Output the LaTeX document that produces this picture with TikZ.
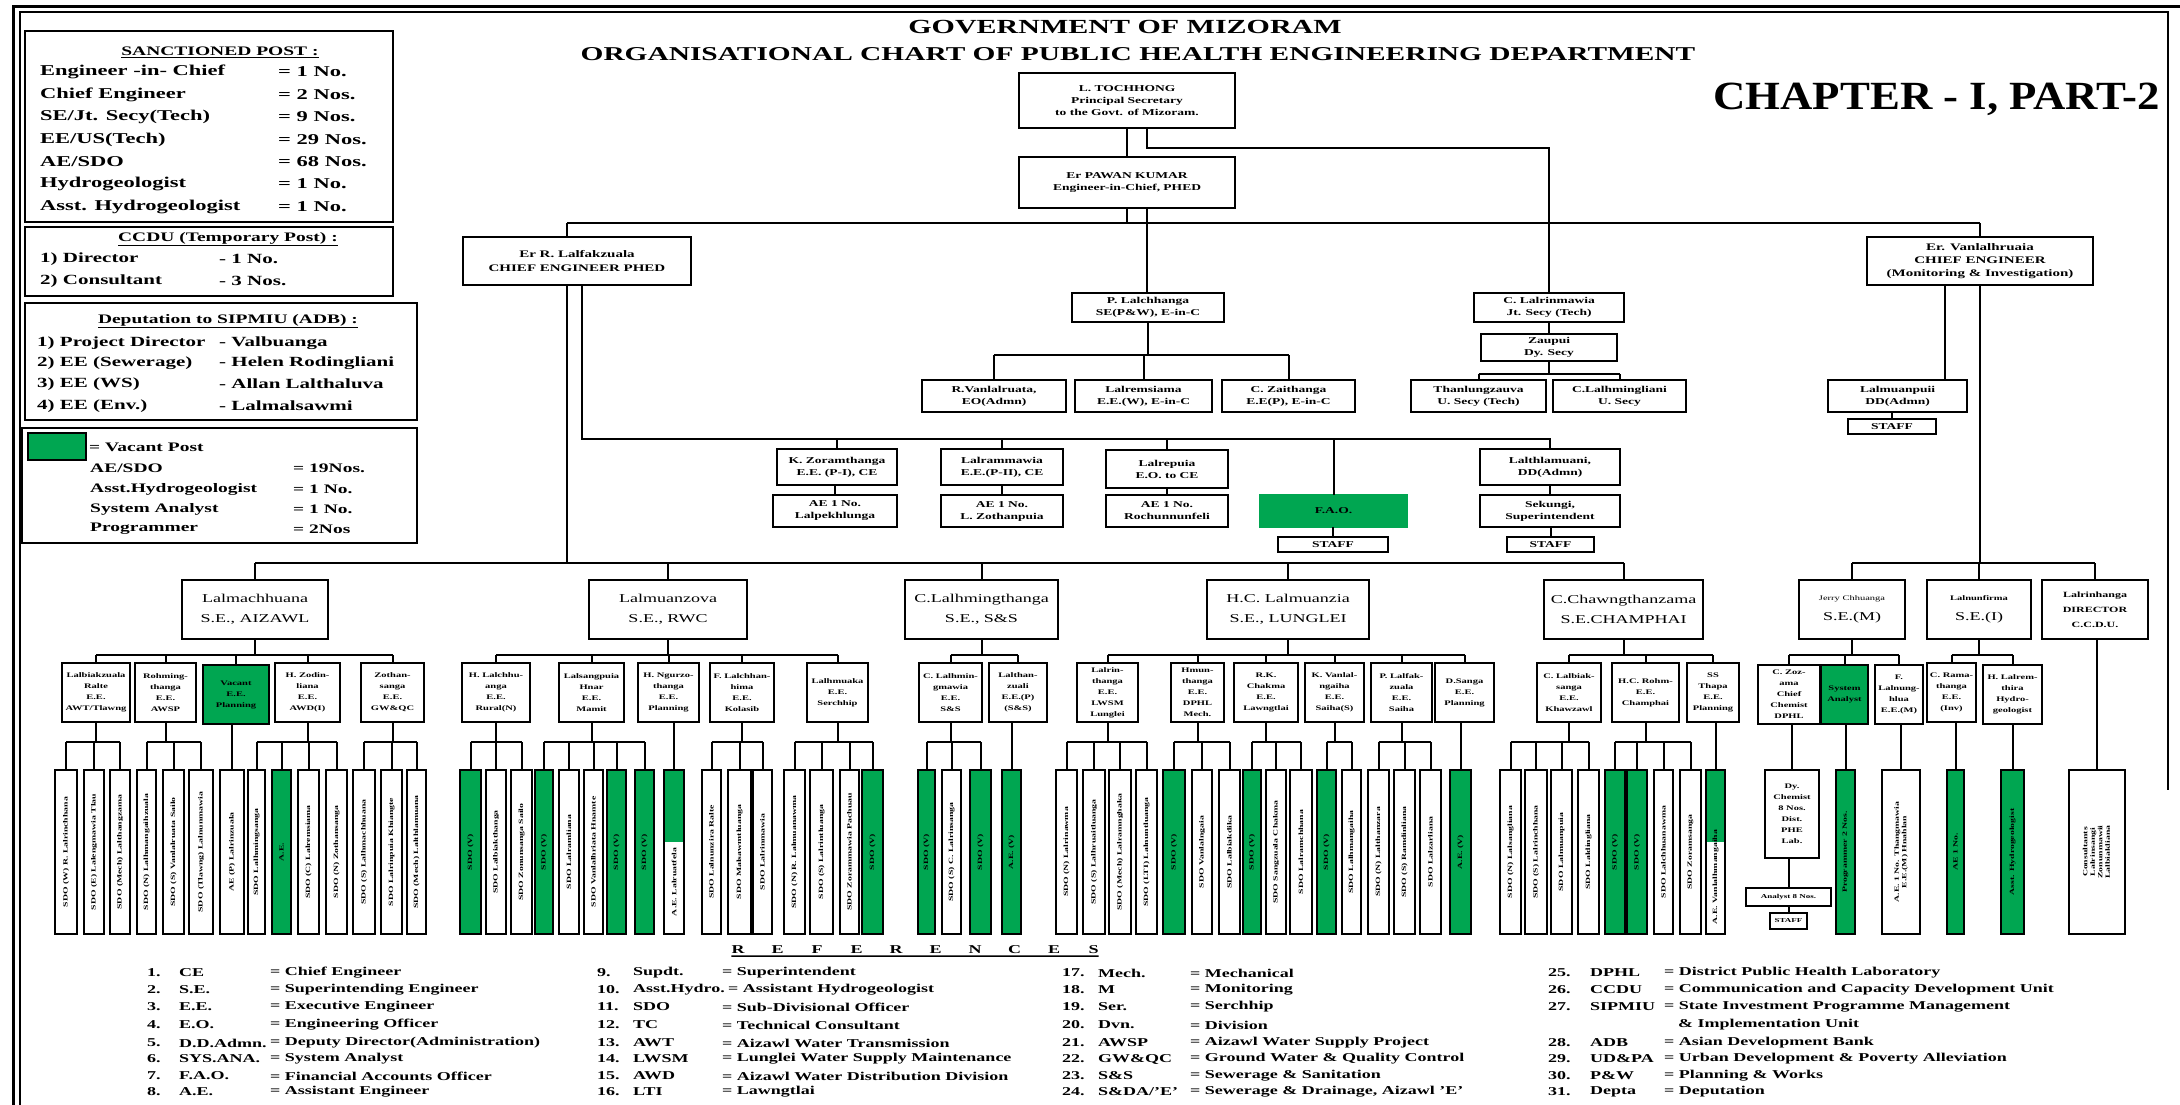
\documentclass[tikz,border=0pt]{standalone}
\usepackage{fontspec}
\setmainfont{Liberation Serif}[FakeStretch=1.5]
\newfontfamily\chapfont{Liberation Serif}[FakeStretch=1.12]
\usepackage{graphicx}
\definecolor{vgreen}{RGB}{0,166,81}
\tikzset{
  box/.style={draw, line width=2pt, inner sep=1pt, outer sep=0pt, align=center, font=\bfseries\fontsize{9}{12}\selectfont},
  sebox/.style={font=\fontsize{12}{20}\selectfont},
  eebox/.style={font=\bfseries\fontsize{7}{11}\selectfont},
  leafbox/.style={draw, line width=2pt, inner sep=0pt, outer sep=0pt, font=\bfseries\fontsize{6.5}{7.5}\selectfont},
  special/.style={path picture={\fill[vgreen] (path picture bounding box.north west) rectangle ([yshift=-72pt]path picture bounding box.north east);}},
  conn/.style={line width=2pt},
  lgt/.style={inner sep=0pt, anchor=west, font=\bfseries\fontsize{15}{17}\selectfont},
  lgs/.style={inner sep=0pt, anchor=west, font=\bfseries\fontsize{14}{16}\selectfont},
  lgv/.style={inner sep=0pt, anchor=west, font=\bfseries\fontsize{13}{15}\selectfont},
  lgh/.style={inner sep=0pt, font=\bfseries\fontsize{13}{15}\selectfont},
  reft/.style={inner sep=0pt, anchor=west, font=\bfseries\fontsize{12}{14}\selectfont},
  gv/.style={fill=vgreen}
}
\newcommand\bx[7][]{\node[box,#1,minimum width={((#5)-(#3))*1pt},minimum height={((#6)-(#4))*1pt},anchor=north west] (#2) at (#3,#4) {#7};}
\newcommand\leaf[5][]{\node[leafbox,#1,minimum width={((#4)-(#3))*1pt},minimum height=164pt,anchor=north west] (#2) at (#3,770) {\rotatebox{90}{#5}};}
\newcommand\lrow[7]{\node[#1] (#2a) at (#3,#4) {#5}; \node[#1] (#2b) at (#6,#4) {#7};}
\newcommand\rrow[8]{\node[reft] (#1n) at (#2,#5) {#6}; \node[reft] (#1a) at (#3,#5) {#7}; \node[reft] (#1d) at (#4,#5) {#8};}
\begin{document}
\begin{tikzpicture}[x=1pt,y=-1pt]
\clip (0,0) rectangle (2180,1104);
\fill[white] (0,0) rectangle (2180,1104);
% frame
\draw[line width=3pt] (13,1110) -- (13,6) -- (2190,6);
\draw[line width=2pt] (20,1110) -- (20,12) -- (2168,12) -- (2168,790);
% titles
\node[font=\bfseries\fontsize{20}{24}\selectfont] (tt1) at (1125,27) {GOVERNMENT OF MIZORAM};
\node[font=\bfseries\fontsize{19.6}{24}\selectfont] (tt2) at (1138,54) {ORGANISATIONAL CHART OF PUBLIC HEALTH ENGINEERING DEPARTMENT};
\node[font=\chapfont\bfseries\fontsize{40}{44}\selectfont, anchor=east, inner sep=0pt] (chap) at (2160,99) {CHAPTER - I, PART-2};
% legend boxes
\bx[line width=2.5pt]{lg1}{25}{31}{393}{222}{}
\bx[line width=2.5pt]{lg2}{25}{227}{393}{296}{}
\bx[line width=2.5pt]{lg3}{25}{303}{417}{420}{}
\bx[line width=2.5pt]{lg4}{22}{428}{417}{543}{}
\node[lgh] (h1) at (220,52) {\underline{SANCTIONED POST :}};
\lrow{lgt}{r1}{40}{72}{Engineer -in- Chief}{278}{= 1 No.}
\lrow{lgt}{r2}{40}{95}{Chief Engineer}{278}{= 2 Nos.}
\lrow{lgt}{r3}{40}{117}{SE/Jt. Secy(Tech)}{278}{= 9 Nos.}
\lrow{lgt}{r4}{40}{140}{EE/US(Tech)}{278}{= 29 Nos.}
\lrow{lgt}{r5}{40}{162}{AE/SDO}{278}{= 68 Nos.}
\lrow{lgt}{r6}{40}{184}{Hydrogeologist}{278}{= 1 No.}
\lrow{lgt}{r7}{40}{207}{Asst. Hydrogeologist}{278}{= 1 No.}
\node[lgh] (h2) at (228,239) {\underline{CCDU (Temporary Post) :}};
\lrow{lgs}{c1}{40}{259}{1) Director}{219}{- 1 No.}
\lrow{lgs}{c2}{40}{281}{2) Consultant}{219}{- 3 Nos.}
\node[lgh] (h3) at (228,321) {\underline{Deputation to SIPMIU (ADB) :}};
\lrow{lgs}{d1}{37}{343}{1) Project Director}{219}{- Valbuanga}
\lrow{lgs}{d2}{37}{363}{2) EE (Sewerage)}{219}{- Helen Rodingliani}
\lrow{lgs}{d3}{37}{384}{3) EE (WS)}{219}{- Allan Lalthaluva}
\lrow{lgs}{d4}{37}{406}{4) EE (Env.)}{219}{- Lalmalsawmi}
\bx[gv,line width=2pt]{lgsq}{28}{433}{86}{460}{}
\node[lgv] (vp) at (89,447) {= Vacant Post};
\lrow{lgv}{v1}{90}{468}{AE/SDO}{293}{= 19Nos.}
\lrow{lgv}{v2}{90}{489}{Asst.Hydrogeologist}{293}{= 1 No.}
\lrow{lgv}{v3}{90}{509}{System Analyst}{293}{= 1 No.}
\lrow{lgv}{v4}{90}{529}{Programmer}{293}{= 2Nos}
% top boxes
\bx{ps}{1019}{73}{1235}{128}{L. TOCHHONG\\Principal Secretary\\to the Govt. of Mizoram.}
\bx{eic}{1019}{157}{1235}{208}{Er PAWAN KUMAR\\Engineer-in-Chief, PHED}
\bx[font=\bfseries\fontsize{10}{14}\selectfont]{ce1}{463}{237}{691}{285}{Er R. Lalfakzuala\\CHIEF ENGINEER PHED}
\bx[font=\bfseries\fontsize{10}{13}\selectfont]{ce2}{1867}{237}{2093}{285}{Er. Vanlalhruaia\\CHIEF ENGINEER\\(Monitoring \& Investigation)}
\bx{pl}{1072}{293}{1224}{322}{P. Lalchhanga\\SE(P\&W), E-in-C}
\bx{clr}{1474}{293}{1624}{322}{C. Lalrinmawia\\Jt. Secy (Tech)}
\bx{zau}{1481}{334}{1617}{361}{Zaupui\\Dy. Secy}
\bx{ea}{922}{380}{1066}{412}{R.Vanlalruata,\\EO(Admn)}
\bx{eb}{1075}{380}{1212}{412}{Lalremsiama\\E.E.(W), E-in-C}
\bx{ec}{1222}{380}{1355}{412}{C. Zaithanga\\E.E(P), E-in-C}
\bx{ug}{1411}{380}{1546}{412}{Thanlungzauva\\U. Secy (Tech)}
\bx{uh}{1553}{380}{1686}{412}{C.Lalhmingliani\\U. Secy}
\bx{lmp}{1828}{380}{1967}{412}{Lalmuanpuii\\DD(Admn)}
\bx{stm}{1848}{419}{1936}{434}{STAFF}
\bx{dd1}{777}{449}{897}{485}{K. Zoramthanga\\E.E. (P-I), CE}
\bx{ee1}{941}{449}{1063}{485}{Lalrammawia\\E.E.(P-II), CE}
\bx{ff1}{1106}{450}{1228}{488}{Lalrepuia\\E.O. to CE}
\bx{dd2}{773}{495}{897}{527}{AE 1 No.\\Lalpekhlunga}
\bx{ee2}{941}{495}{1063}{527}{AE 1 No.\\L. Zothanpuia}
\bx{ff2}{1106}{495}{1228}{527}{AE 1 No.\\Rochunnunfeli}
\bx[gv,draw=vgreen]{fao}{1260}{495}{1407}{527}{F.A.O.}
\bx{stf}{1278}{537}{1388}{552}{STAFF}
\bx{lth}{1480}{449}{1620}{485}{Lalthlamuani,\\DD(Admn)}
\bx{sek}{1480}{495}{1620}{527}{Sekungi,\\Superintendent}
\bx{stl}{1507}{537}{1594}{552}{STAFF}
% SE row
\bx[sebox]{se1}{182}{580}{328}{639}{Lalmachhuana\\S.E., AIZAWL}
\bx[sebox]{se2}{589}{580}{747}{639}{Lalmuanzova\\S.E., RWC}
\bx[sebox]{se3}{905}{580}{1058}{639}{C.Lalhmingthanga\\S.E., S\&S}
\bx[sebox]{se4}{1207}{580}{1369}{639}{H.C. Lalmuanzia\\S.E., LUNGLEI}
\bx[sebox]{se5}{1544}{580}{1703}{639}{C.Chawngthanzama\\S.E.CHAMPHAI}
\bx[sebox]{se6}{1799}{580}{1905}{639}{{\fontsize{7}{9}\selectfont Jerry Chhuanga}\\S.E.(M)}
\bx[sebox]{se7}{1927}{580}{2031}{639}{{\fontsize{7}{9}\selectfont\bfseries Lalnunfirma}\\S.E.(I)}
\bx[font=\bfseries\fontsize{8}{15}\selectfont]{se8}{2042}{580}{2148}{639}{Lalrinhanga\\DIRECTOR\\C.C.D.U.}
% EE row
\bx[eebox]{ee11}{62}{663}{130}{722}{Lalbiakzuala\\Ralte\\E.E.\\AWT/Tlawng}
\bx[eebox]{ee12}{135}{663}{196}{722}{Rohming-\\thanga\\E.E.\\AWSP}
\bx[eebox,gv]{ee13}{203}{665}{269}{724}{Vacant\\E.E.\\Planning}
\bx[eebox]{ee14}{275}{663}{340}{722}{H. Zodin-\\liana\\E.E.\\AWD(I)}
\bx[eebox]{ee15}{361}{663}{424}{722}{Zothan-\\sanga\\E.E.\\GW\&QC}
\bx[eebox]{ee21}{462}{663}{530}{722}{H. Lalchhu-\\anga\\E.E.\\Rural(N)}
\bx[eebox]{ee22}{559}{663}{624}{722}{Lalsangpuia\\Hnar\\E.E.\\Mamit}
\bx[eebox]{ee23}{638}{663}{699}{722}{H. Ngurzo-\\thanga\\E.E.\\Planning}
\bx[eebox]{ee24}{710}{663}{774}{722}{F. Lalchhan-\\hima\\E.E.\\Kolasib}
\bx[eebox]{ee25}{807}{663}{868}{722}{Lalhmuaka\\E.E.\\Serchhip}
\bx[eebox]{ee31}{919}{663}{982}{722}{C. Lalhmin-\\gmawia\\E.E.\\S\&S}
\bx[eebox]{ee32}{989}{663}{1047}{722}{Lalthan-\\zuali\\E.E.(P)\\(S\&S)}
\bx[eebox]{ee41}{1077}{663}{1138}{722}{Lalrin-\\thanga\\E.E.\\LWSM\\Lunglei}
\bx[eebox]{ee42}{1171}{663}{1224}{722}{Hmun-\\thanga\\E.E.\\DPHL\\Mech.}
\bx[eebox]{ee43}{1234}{663}{1298}{722}{R.K.\\Chakma\\E.E.\\Lawngtlai}
\bx[eebox]{ee44}{1305}{663}{1364}{722}{K. Vanlal-\\ngaiha\\E.E.\\Saiha(S)}
\bx[eebox]{ee45}{1371}{663}{1432}{722}{P. Lalfak-\\zuala\\E.E.\\Saiha}
\bx[eebox]{ee46}{1435}{663}{1494}{722}{D.Sanga\\E.E.\\Planning}
\bx[eebox]{ee51}{1537}{663}{1601}{722}{C. Lalbiak-\\sanga\\E.E.\\Khawzawl}
\bx[eebox]{ee52}{1612}{663}{1679}{722}{H.C. Rohm-\\E.E.\\Champhai}
\bx[eebox]{ee53}{1687}{663}{1739}{722}{SS\\Thapa\\E.E.\\Planning}
\bx[eebox]{ee61}{1758}{665}{1820}{724}{C. Zoz-\\ama\\Chief\\Chemist\\DPHL}
\bx[eebox,gv]{ee62}{1821}{665}{1868}{724}{System\\Analyst}
\bx[eebox]{ee63}{1875}{665}{1923}{724}{F.\\Lalnung-\\hlua\\E.E.(M)}
\bx[eebox]{ee71}{1927}{663}{1976}{722}{C. Rama-\\thanga\\E.E.\\(Inv)}
\bx[eebox]{ee72}{1983}{665}{2042}{724}{H. Lalrem-\\thira\\Hydro-\\geologist}
% leaves Aizawl
\leaf{a1}{55}{77}{SDO (W) R. Lalrinchhana}
\leaf{a2}{84}{104}{SDO (E) Lalengmawia Tlau}
\leaf{a3}{110}{130}{SDO (Mech) Lalthangzama}
\leaf{a4}{137}{156}{SDO (N) Lalhmangaihzuala}
\leaf{a5}{163}{184}{SDO (S) Vanlalruata Sailo}
\leaf{a6}{189}{213}{SDO (Tlawng) Lalnunmawia}
\leaf{a7}{220}{244}{AE (P) Lalrinzuala}
\leaf{a8}{248}{265}{SDO Lalhmingsanga}
\leaf[gv]{a9}{272}{291}{A.E.}
\leaf{a10}{298}{319}{SDO (C) Lalremsiama}
\leaf{a11}{326}{347}{SDO (N) Zothansanga}
\leaf{a12}{353}{375}{SDO (S) Lalhmachhuana}
\leaf{a13}{381}{402}{SDO Lalrinpuia Khiangte}
\leaf{a14}{407}{426}{SDO (Mech) Lalthlamuana}
% leaves RWC
\leaf[gv]{r1}{460}{481}{SDO (V)}
\leaf{r2}{486}{506}{SDO Lalbiakthanga}
\leaf{r3}{511}{532}{SDO Zonunsanga Sailo}
\leaf[gv]{r4}{535}{553}{SDO (V)}
\leaf{r5}{559}{579}{SDO Lalramliana}
\leaf{r6}{584}{603}{SDO Vanlalhriata Hnamte}
\leaf[gv]{r7}{607}{626}{SDO (V)}
\leaf[gv]{r8}{635}{654}{SDO (V)}
\leaf[special]{r9}{664}{684}{A.E. Lalruatfela\hspace{60pt}}
\leaf{r10}{702}{721}{SDO Lalnunzira Ralte}
\leaf{r11}{728}{751}{SDO Malsawmtluanga}
\leaf{r12}{753}{772}{SDO Lalrinmawia}
\leaf{r13}{784}{805}{SDO (N) R. Lalmuanawma}
\leaf{r14}{810}{833}{SDO (S) Lalrintluanga}
\leaf{r15}{840}{859}{SDO Zorammawia Pachuau}
\leaf[gv]{r16}{862}{883}{SDO (V)}
% leaves S&S
\leaf[gv]{s1}{918}{935}{SDO (V)}
\leaf{s2}{942}{961}{SDO (S) C. Lalrinsanga}
\leaf[gv]{s3}{970}{991}{SDO (V)}
\leaf[gv]{s4}{1002}{1021}{A.E. (V)}
% leaves Lunglei
\leaf{l1}{1056}{1077}{SDO (N) Lalrinawma}
\leaf{l2}{1083}{1105}{SDO (S) Lalhruaitluanga}
\leaf{l3}{1109}{1131}{SDO (Mech) Lalramnghaka}
\leaf{l4}{1136}{1157}{SDO (LTI) Lalnuntluanga}
\leaf[gv]{l5}{1163}{1185}{SDO (V)}
\leaf{l6}{1192}{1212}{SDO Vanlalngaia}
\leaf{l7}{1219}{1240}{SDO Lalbiakdika}
\leaf[gv]{l8}{1243}{1261}{SDO (V)}
\leaf{l9}{1266}{1286}{SDO Sangzuala Chakma}
\leaf{l10}{1290}{1312}{SDO Lalramchhana}
\leaf[gv]{l11}{1317}{1336}{SDO (V)}
\leaf{l12}{1342}{1361}{SDO Lalhmangaiha}
\leaf{l13}{1368}{1389}{SDO (N) Lalthanzara}
\leaf{l14}{1394}{1415}{SDO (S) Ramdinliana}
\leaf{l15}{1420}{1441}{SDO Lalzarliana}
\leaf[gv]{l16}{1450}{1471}{A.E. (V)}
% leaves Champhai
\leaf{c1}{1500}{1521}{SDO (N) Lalsangliana}
\leaf{c2}{1525}{1547}{SDO (S) Lalrinchhana}
\leaf{c3}{1551}{1572}{SDO Lalmuanpuia}
\leaf{c4}{1578}{1599}{SDO Laldingliana}
\leaf[gv]{c5}{1605}{1625}{SDO (V)}
\leaf[gv]{c6}{1627}{1647}{SDO (V)}
\leaf{c7}{1654}{1673}{SDO Lalchhuanawma}
\leaf{c8}{1680}{1701}{SDO Zoramsanga}
\leaf[special]{c9}{1706}{1725}{A.E. Vanlalhmangaiha\hspace{50pt}}
% leaves SE(M), SE(I), CCDU
\bx[eebox]{chem}{1765}{770}{1819}{858}{Dy.\\Chemist\\8 Nos.\\Dist.\\PHE\\Lab.}
\bx[font=\bfseries\fontsize{6}{7}\selectfont]{anl}{1746}{888}{1831}{906}{Analyst 8 Nos.}
\bx[font=\bfseries\fontsize{6}{7}\selectfont]{stc}{1770}{913}{1807}{929}{STAFF}
\leaf[gv]{prg}{1836}{1855}{Programmer 2 Nos.}
\leaf{aem}{1882}{1920}{\begin{tabular}{@{}c@{}}A.E. 1 No. Thangmawia\\E.E.(M) Hnahlan\end{tabular}}
\leaf[gv]{aei}{1947}{1964}{AE 1 No.}
\leaf[gv]{hyd}{2001}{2024}{Asst. Hydrogeologist}
\leaf{ccdu}{2069}{2125}{\begin{tabular}{@{}c@{}}Consultants\\Lalrinsangi\\Zonunmawii\\Lalbiakliana\end{tabular}}
% bus coordinates
\coordinate (yA) at (0,148);
\coordinate (ceBus) at (0,223);
\coordinate (abcBus) at (0,355);
\coordinate (ghBus) at (0,374);
\coordinate (midBus) at (0,439);
\coordinate (seBus) at (0,563);
\coordinate (eeBus) at (0,655);
\coordinate (lBus) at (0,742);
% top connectors
\draw[conn] (ps.south) -- (eic.north);
\draw[conn] ([xshift=20pt]ps.south) -- ([xshift=20pt]ps.south |- yA) -| (clr.north);
\draw[conn] (eic.south) -- (eic.south |- ceBus);
\draw[conn] ([xshift=-10pt]ce1.north |- ceBus) -- (ce2.north |- ceBus);
\draw[conn] ([xshift=-10pt]ce1.north) -- ([xshift=-10pt]ce1.north |- ceBus);
\draw[conn] (ce2.north) -- (ce2.north |- ceBus);
\draw[conn] ([xshift=20pt]eic.south) -- ([xshift=20pt]eic.south |- pl.north);
\draw[conn] (pl.south) -- (pl.south |- abcBus);
\draw[conn] (ea.north |- abcBus) -- (ec.north |- abcBus);
\foreach \n in {ea,eb,ec} \draw[conn] (\n.north) -- (\n.north |- abcBus);
\draw[conn] (clr.south) -- (zau.north);
\draw[conn] (zau.south) -- (zau.south |- ghBus);
\draw[conn] (ug.north |- ghBus) -- (uh.north |- ghBus);
\foreach \n in {ug,uh} \draw[conn] (\n.north) -- (\n.north |- ghBus);
\draw[conn] ([xshift=-35pt]ce2.south) -- ([xshift=-35pt]ce2.south |- lmp.north);
\draw[conn] (stm.north) -- (stm.north |- lmp.south);
\draw[conn] ([xshift=5pt]ce1.south) |- (lth.north |- midBus) -- (lth.north);
\foreach \n in {dd1,ee1,ff1,fao} \draw[conn] (\n.north) -- (\n.north |- midBus);
\draw[conn] (dd2.north) -- (dd2.north |- dd1.south);
\draw[conn] (ee1.south) -- (ee2.north);
\draw[conn] (ff1.south) -- (ff2.north);
\draw[conn] (stf.north) -- (stf.north |- fao.south);
\draw[conn] (lth.south) -- (sek.north);
\draw[conn] (stl.north) -- (stl.north |- sek.south);
% SE connectors
\draw[conn] ([xshift=-10pt]ce1.south) -- ([xshift=-10pt]ce1.south |- seBus);
\draw[conn] (se1.north |- seBus) -- (se5.north |- seBus);
\draw[conn] (ce2.south) -- (ce2.south |- seBus);
\draw[conn] (se6.north |- seBus) -- (se8.north |- seBus);
\foreach \n in {se1,se2,se3,se4,se5,se6,se7,se8} \draw[conn] (\n.north) -- (\n.north |- seBus);
% EE buses
\foreach \s/\a/\b in {se1/ee11/ee15, se2/ee21/ee25, se3/ee31/ee32, se4/ee41/ee46, se5/ee51/ee53, se6/ee61/ee63, se7/ee71/ee72} {
  \draw[conn] (\s.south) -- (\s.south |- eeBus);
  \draw[conn] (\a.north |- eeBus) -- (\b.north |- eeBus);
}
\foreach \n in {ee11,ee12,ee13,ee14,ee15,ee21,ee22,ee23,ee24,ee25,ee31,ee32,ee41,ee42,ee43,ee44,ee45,ee46,ee51,ee52,ee53,ee61,ee62,ee63,ee71,ee72}
  \draw[conn] (\n.north) -- (\n.north |- eeBus);
\draw[conn] (ccdu.north) -- (ccdu.north |- se8.south);
% leaf buses
\foreach \e/\a/\b in {ee11/a1/a3, ee12/a4/a6, ee14/a8/a11, ee15/a12/a14, ee21/r1/r3, ee22/r4/r8, ee24/r10/r12, ee25/r13/r16, ee31/s1/s3, ee41/l1/l4, ee42/l5/l7, ee43/l8/l10, ee44/l11/l12, ee45/l13/l15, ee51/c1/c4, ee52/c5/c8} {
  \draw[conn] (\e.south) -- (\e.south |- lBus);
  \draw[conn] (\a.north |- lBus) -- (\b.north |- lBus);
}
\foreach \n in {a1,a2,a3,a4,a5,a6,a8,a9,a10,a11,a12,a13,a14,r1,r2,r3,r4,r5,r6,r7,r8,r10,r11,r12,r13,r14,r15,r16,s1,s2,s3,l1,l2,l3,l4,l5,l6,l7,l8,l9,l10,l11,l12,l13,l14,l15,c1,c2,c3,c4,c5,c6,c7,c8}
  \draw[conn] (\n.north) -- (\n.north |- lBus);
\foreach \e/\b in {ee13/a7, ee23/r9, ee32/s4, ee46/l16, ee53/c9, ee61/chem, ee62/prg, ee63/aem, ee71/aei, ee72/hyd}
  \draw[conn] (\b.north) -- (\b.north |- \e.south);
\draw[conn] (anl.north) -- (anl.north |- chem.south);
\draw[conn] (stc.north) -- (stc.north |- anl.south);
% references
\foreach \l [count=\i] in {R,E,F,E,R,E,N,C,E,S}
  \node[font=\bfseries\fontsize{12}{14}\selectfont, inner sep=0pt] (rf\i) at ({738+(\i-1)*39.5},950) {\l};
\draw[line width=1.5pt] ([yshift=-2pt]rf1.south west) -- ([yshift=-2pt]rf10.south east);
\rrow{q1}{147}{179}{270}{973}{1.}{CE}{= Chief Engineer}
\rrow{q2}{147}{179}{270}{990}{2.}{S.E.}{= Superintending Engineer}
\rrow{q3}{147}{179}{270}{1007}{3.}{E.E.}{= Executive Engineer}
\rrow{q4}{147}{179}{270}{1025}{4.}{E.O.}{= Engineering Officer}
\rrow{q5}{147}{179}{270}{1043}{5.}{D.D.Admn.}{= Deputy Director(Administration)}
\rrow{q6}{147}{179}{270}{1059}{6.}{SYS.ANA.}{= System Analyst}
\rrow{q7}{147}{179}{270}{1076}{7.}{F.A.O.}{= Financial Accounts Officer}
\rrow{q8}{147}{179}{270}{1092}{8.}{A.E.}{= Assistant Engineer}
\rrow{q9}{597}{633}{722}{973}{9.}{Supdt.}{= Superintendent}
\rrow{q10}{597}{633}{728}{990}{10.}{Asst.Hydro.}{= Assistant Hydrogeologist}
\rrow{q11}{597}{633}{722}{1007}{11.}{SDO}{= Sub-Divisional Officer}
\rrow{q12}{597}{633}{722}{1025}{12.}{TC}{= Technical Consultant}
\rrow{q13}{597}{633}{722}{1043}{13.}{AWT}{= Aizawl Water Transmission}
\rrow{q14}{597}{633}{722}{1059}{14.}{LWSM}{= Lunglei Water Supply Maintenance}
\rrow{q15}{597}{633}{722}{1076}{15.}{AWD}{= Aizawl Water Distribution Division}
\rrow{q16}{597}{633}{722}{1092}{16.}{LTI}{= Lawngtlai}
\rrow{q17}{1062}{1098}{1190}{973}{17.}{Mech.}{= Mechanical}
\rrow{q18}{1062}{1098}{1190}{990}{18.}{M}{= Monitoring}
\rrow{q19}{1062}{1098}{1190}{1007}{19.}{Ser.}{= Serchhip}
\rrow{q20}{1062}{1098}{1190}{1025}{20.}{Dvn.}{= Division}
\rrow{q21}{1062}{1098}{1190}{1043}{21.}{AWSP}{= Aizawl Water Supply Project}
\rrow{q22}{1062}{1098}{1190}{1059}{22.}{GW\&QC}{= Ground Water \& Quality Control}
\rrow{q23}{1062}{1098}{1190}{1076}{23.}{S\&S}{= Sewerage \& Sanitation}
\rrow{q24}{1062}{1098}{1190}{1092}{24.}{S\&DA/'E'}{= Sewerage \& Drainage, Aizawl 'E'}
\rrow{q25}{1548}{1590}{1664}{973}{25.}{DPHL}{= District Public Health Laboratory}
\rrow{q26}{1548}{1590}{1664}{990}{26.}{CCDU}{= Communication and Capacity Development Unit}
\rrow{q27}{1548}{1590}{1664}{1007}{27.}{SIPMIU}{= State Investment Programme Management}
\node[reft] (q27c) at (1678,1025) {\& Implementation Unit};
\rrow{q28}{1548}{1590}{1664}{1043}{28.}{ADB}{= Asian Development Bank}
\rrow{q29}{1548}{1590}{1664}{1059}{29.}{UD\&PA}{= Urban Development \& Poverty Alleviation}
\rrow{q30}{1548}{1590}{1664}{1076}{30.}{P\&W}{= Planning \& Works}
\rrow{q31}{1548}{1590}{1664}{1092}{31.}{Depta}{= Deputation}
\end{tikzpicture}
\end{document}
